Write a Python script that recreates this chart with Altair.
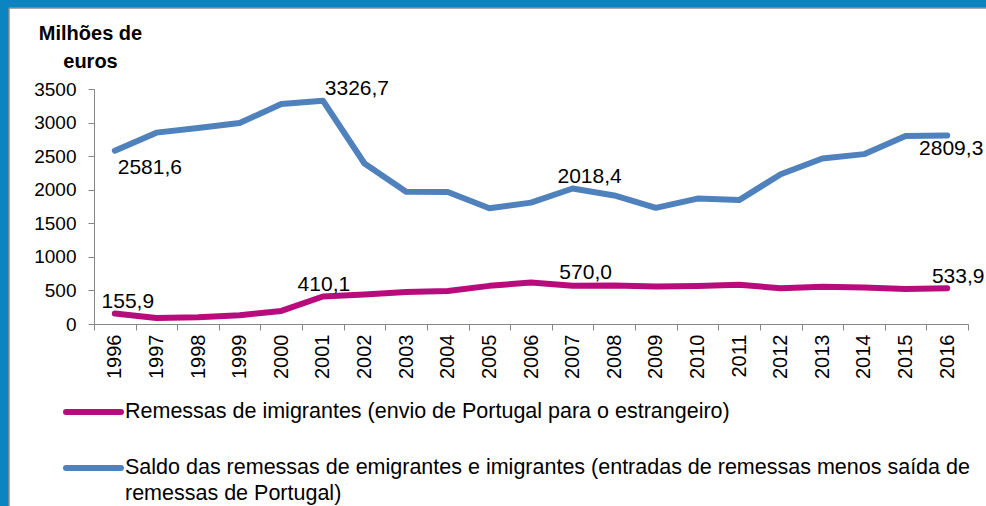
import altair as alt
import pandas as pd

years = [str(y) for y in range(1996, 2017)]
saldo = [2581.6, 2850, 2920, 2995, 3275, 3326.7, 2390, 1970, 1965, 1725, 1808,
         2018.4, 1915, 1730, 1868, 1845, 2230, 2465, 2530, 2800, 2809.3]
imigrantes = [155.9, 88, 100, 130, 195, 410.1, 440, 475, 490, 568, 618,
              570.0, 575, 558, 566, 585, 532, 556, 542, 522, 533.9]
y_ticks = [0, 500, 1000, 1500, 2000, 2500, 3000, 3500]

serie_imig = "Remessas de imigrantes (envio de Portugal para o estrangeiro)"
serie_saldo = ("Saldo das remessas de emigrantes e imigrantes (entradas de remessas menos saída de\n"
               "remessas de Portugal)")

blue = "#4F81BD"
pink = "#B80C7D"
frame_blue = "#0B85C2"
font = "Liberation Sans"

rows = []
for y, s, i in zip(years, saldo, imigrantes):
    rows.append({"ano": y, "valor": s, "serie": "saldo",
                 "rotulo": f"{s:.1f}".replace(".", ",")})
    rows.append({"ano": y, "valor": i, "serie": "imig",
                 "rotulo": f"{i:.1f}".replace(".", ",")})
df = pd.DataFrame(rows)

xaxis = alt.Axis(title=None, labelAngle=270, tickBand="extent",
                 labelFontSize=20, labelFont=font, labelColor="#000000",
                 labelPadding=4, tickSize=6, domainColor="#868686",
                 tickColor="#868686", labelOverlap=False, zindex=1)
yaxis = alt.Axis(values=y_ticks, format="d", labelOverlap=False,
                 grid=False, labelFontSize=19, labelFont=font,
                 labelColor="#000000", labelPadding=12, tickSize=6,
                 domainColor="#868686", tickColor="#868686",
                 title=["Milhões de", "euros"], titleAngle=0,
                 titleAlign="center", titleBaseline="alphabetic",
                 titleX=-4, titleY=-50, titleLineHeight=28,
                 titleFont=font, titleFontSize=20,
                 titleFontWeight="bold", titleColor="#000000", zindex=1)
xscale = alt.Scale(type="band", paddingInner=0, paddingOuter=0)
yscale = alt.Scale(domain=[0, 3500], nice=False)


def xenc():
    return alt.X("ano:O", bandPosition=0.5, scale=xscale, axis=xaxis)


def yenc():
    return alt.Y("valor:Q", scale=yscale, axis=yaxis)


one = pd.DataFrame({"k": [0]})

top_strip = alt.Chart(one).mark_rect(fill=frame_blue).encode(
    x=alt.value(-94), x2=alt.value(892), y=alt.value(-89), y2=alt.value(-81))
left_strip = alt.Chart(one).mark_rect(fill=frame_blue).encode(
    x=alt.value(-94), x2=alt.value(-85), y=alt.value(-89), y2=alt.value(417))
edge_top = alt.Chart(one).mark_rule(color="#8C8C8C", strokeWidth=1.5).encode(
    x=alt.value(-85), x2=alt.value(892), y=alt.value(-81))
edge_left = alt.Chart(one).mark_rule(color="#8C8C8C", strokeWidth=1.5).encode(
    x=alt.value(-85), y=alt.value(-81), y2=alt.value(417))

lines = alt.Chart(df).mark_line(strokeWidth=6, strokeCap="round", strokeJoin="round").encode(
    x=xenc(), y=yenc(),
    color=alt.Color("serie:N", scale=alt.Scale(domain=["saldo", "imig"], range=[blue, pink]),
                    legend=None),
    detail="serie:N")

label_offsets = [
    ("saldo", "1996", 35, 17), ("saldo", "2001", 34, -12), ("saldo", "2007", 17, -11),
    ("saldo", "2016", 4, 14),
    ("imig", "1996", 13, -12), ("imig", "2001", 1, -11), ("imig", "2007", 13, -13),
    ("imig", "2016", 11, -11),
]
label_layers = []
for serie, ano, dx, dy in label_offsets:
    label_layers.append(
        alt.Chart(df).transform_filter(
            (alt.datum.serie == serie) & (alt.datum.ano == ano)
        ).mark_text(font=font, fontSize=21, color="#000000", dx=dx, dy=dy,
                    align="center", baseline="middle").encode(
            x=xenc(), y=yenc(), text="rotulo:N"))

leg1_line = alt.Chart(one).mark_rule(color=pink, strokeWidth=6, strokeCap="round").encode(
    x=alt.value(-28), x2=alt.value(27), y=alt.value(323))
leg1_text = alt.Chart(one).mark_text(font=font, fontSize=21.5, color="#000000",
                                     align="left", baseline="middle").encode(
    x=alt.value(31), y=alt.value(323), text=alt.value(serie_imig))
leg2_line = alt.Chart(one).mark_rule(color=blue, strokeWidth=6, strokeCap="round").encode(
    x=alt.value(-28), x2=alt.value(27), y=alt.value(379))
leg2_text = alt.Chart(one).mark_text(font=font, fontSize=21.5, color="#000000",
                                     align="left", baseline="middle",
                                     lineBreak="\n", lineHeight=26).encode(
    x=alt.value(31), y=alt.value(379), text=alt.value(serie_saldo))

chart = alt.layer(top_strip, left_strip, edge_top, edge_left, lines, *label_layers,
                  leg1_line, leg1_text, leg2_line, leg2_text).properties(
    width=874, height=235, background="#FFFFFF",
    autosize=alt.AutoSizeParams(type="none"),
    padding={"left": 94, "top": 89, "right": 18, "bottom": 182},
).configure_view(strokeWidth=0)

chart.save("out.html", embed_options={"renderer": "svg", "actions": False})
